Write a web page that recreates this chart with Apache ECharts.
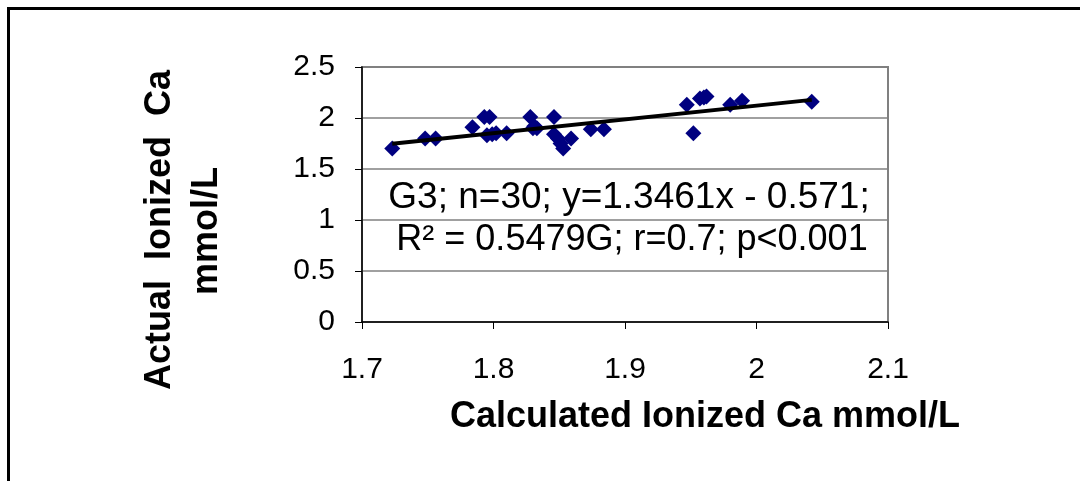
<!DOCTYPE html>
<html>
<head>
<meta charset="utf-8">
<title>Calculated vs Actual Ionized Ca</title>
<script src="https://cdn.jsdelivr.net/npm/echarts@6/dist/echarts.min.js"></script>
<style>
  html, body { margin: 0; padding: 0; background: #fff; }
  #chart { width: 1080px; height: 481px; }
</style>
</head>
<body>
<div id="chart"></div>
<script>
  // G3 data points
  const calcCa = [1.723, 1.748, 1.756, 1.784, 1.793, 1.797, 1.795, 1.802, 1.810, 1.828,
                  1.830, 1.833, 1.846, 1.846, 1.849, 1.859, 1.853, 1.874, 1.884, 1.947,
                  1.952, 1.957, 1.962, 1.980, 1.989, 2.042, 1.851, 1.831, 1.960, 1.799];
  const actualCa = [1.70, 1.80, 1.80, 1.91, 2.01, 2.01, 1.83, 1.85, 1.85, 2.01,
                    1.90, 1.90, 2.01, 1.84, 1.80, 1.80, 1.70, 1.89, 1.89, 2.13,
                    1.85, 2.19, 2.21, 2.13, 2.17, 2.16, 1.75, 1.92, 2.20, 1.84];
  const xTicks = [1.7, 1.8, 1.9, 2.0, 2.1];
  const yTicks = [0, 0.5, 1, 1.5, 2, 2.5];
  // trendline from the equation on the chart
  const slope = 1.3461;
  const intercept = -0.571;

  const font = "'Liberation Sans', Arial, sans-serif";
  const points = calcCa.map((x, i) => [x, actualCa[i]]);
  const xMin = Math.min.apply(null, calcCa);
  const xMax = Math.max.apply(null, calcCa);
  const trend = [[xMin, slope * xMin + intercept], [xMax, slope * xMax + intercept]];

  const chart = echarts.init(document.getElementById('chart'));
  const option = {
    animation: false,
    grid: {
      left: 362, right: 192, top: 67, bottom: 159,
      show: true, borderColor: '#808080', borderWidth: 2, backgroundColor: '#fff'
    },
    xAxis: {
      type: 'value',
      min: xTicks[0], max: xTicks[xTicks.length - 1], interval: 0.1,
      axisLine: { lineStyle: { color: '#000', width: 1.5 } },
      axisTick: { show: true, length: 7, lineStyle: { color: '#000' } },
      axisLabel: { color: '#000', fontSize: 30, fontFamily: font, margin: 33 },
      splitLine: { show: false }
    },
    yAxis: {
      type: 'value',
      min: yTicks[0], max: yTicks[yTicks.length - 1], interval: 0.5,
      axisLine: { show: true, lineStyle: { color: '#000', width: 1.5 } },
      axisTick: { show: true, length: 7, lineStyle: { color: '#000' } },
      axisLabel: { color: '#000', fontSize: 30, fontFamily: font, margin: 27 },
      splitLine: { show: true, lineStyle: { color: '#808080', width: 1.5 } }
    },
    series: [{
      name: 'G3',
      type: 'scatter',
      data: points,
      symbol: 'diamond',
      symbolSize: 16,
      itemStyle: { color: '#000080', opacity: 1 },
      z: 2
    }, {
      name: 'trend',
      type: 'line',
      data: trend,
      symbol: 'none',
      lineStyle: { color: '#000', width: 4 },
      z: 3
    }],
    graphic: [{
      type: 'rect',
      shape: { x: 8.5, y: 8.5, width: 1200, height: 600 },
      style: { fill: 'none', stroke: '#000', lineWidth: 3 },
      silent: true
    }, {
      type: 'text', x: 629, y: 198,
      style: { text: 'G3; n=30; y=1.3461x - 0.571;', fill: '#000', font: '37px ' + font,
               textAlign: 'center', textVerticalAlign: 'middle' },
      z: 10
    }, {
      type: 'text', x: 632, y: 240,
      style: { text: 'R² = 0.5479G; r=0.7; p<0.001', fill: '#000', font: '36px ' + font,
               textAlign: 'center', textVerticalAlign: 'middle' },
      z: 10
    }, {
      type: 'text', x: 705, y: 417,
      style: { text: 'Calculated Ionized Ca mmol/L', fill: '#000', font: 'bold 36px ' + font,
               textAlign: 'center', textVerticalAlign: 'middle' }
    }, {
      type: 'text', x: 160, y: 230, rotation: Math.PI / 2,
      style: { text: 'Actual  Ionized  Ca', fill: '#000', font: 'bold 36px ' + font,
               textAlign: 'center', textVerticalAlign: 'middle' }
    }, {
      type: 'text', x: 207, y: 231, rotation: Math.PI / 2,
      style: { text: 'mmol/L', fill: '#000', font: 'bold 36px ' + font,
               textAlign: 'center', textVerticalAlign: 'middle' }
    }]
  };
  chart.setOption(option);
</script>
</body>
</html>
